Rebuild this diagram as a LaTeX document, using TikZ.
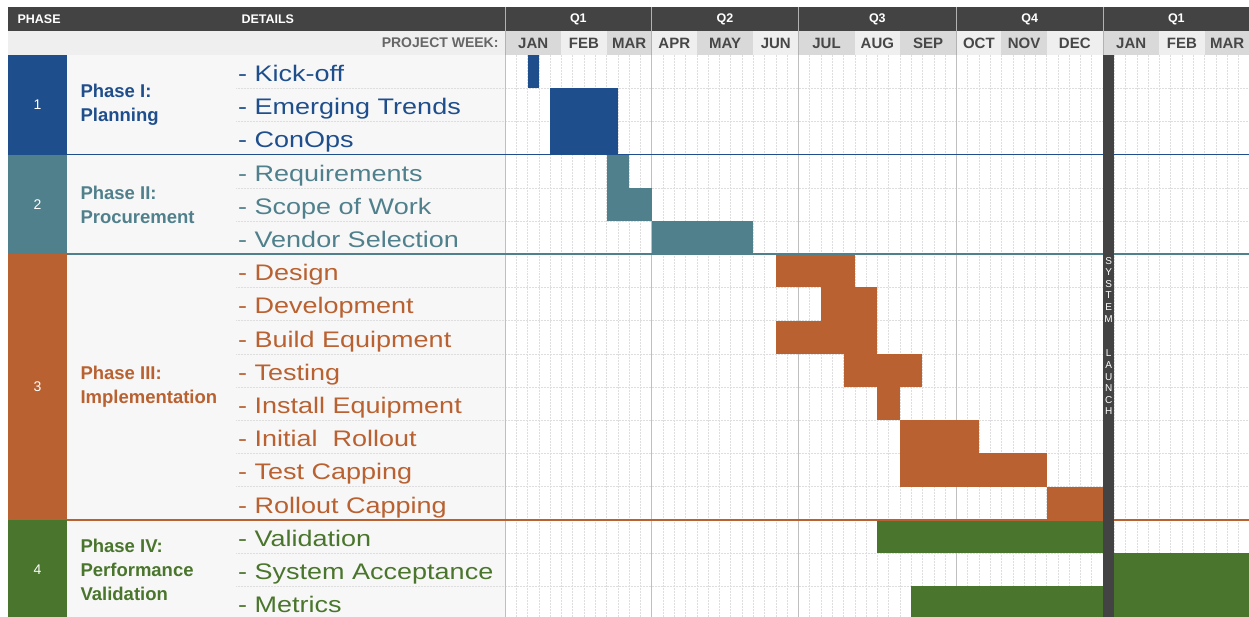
\documentclass[tikz,border=0pt]{standalone}
\usepackage{fontspec}
\setmainfont{Liberation Sans}
\newfontfamily\taskfont[FakeStretch=1.2]{Liberation Sans}

\definecolor{phA}{HTML}{1F4E8C}
\definecolor{phB}{HTML}{50808C}
\definecolor{phC}{HTML}{B96130}
\definecolor{phD}{HTML}{4A752C}
\definecolor{hdark}{HTML}{434343}
\definecolor{mdk}{HTML}{D9D9D9}
\definecolor{mlt}{HTML}{EFEFEF}

% one week column, one task row (in px)
\newcommand\wk{11.283}
\newcommand\rh{33.2}

\begin{document}
\begin{tikzpicture}[x=1pt,y=-1pt,
    hdr/.style={font=\fontsize{12.5}{14}\selectfont\bfseries,text=white},
    mon/.style={font=\fontsize{15}{17}\selectfont\bfseries,text=black!72},
    task/.style={anchor=base west,font=\taskfont\fontsize{22.5}{26}\selectfont},
    phname/.style={anchor=west,align=left,font=\fontsize{18.5}{24}\selectfont\bfseries},
    griddot/.style={black!13,densely dotted,line width=0.5pt},
    qline/.style={black!25,line width=0.8pt}]
    \clip (0,0) rectangle (1249,617);
    \fill[white] (0,0) rectangle (1249,617);
    \fill[black!3] (67,55) rectangle (505,617);

    % week grid
    \foreach \i in {1,...,65}
        \draw[griddot] (505+\i*\wk,55) -- (505+\i*\wk,617);
    \foreach \r in {1,...,16}
        \draw[griddot] (236,55+\r*\rh) -- (1249,55+\r*\rh);
    \foreach \i in {0,13,26,40}
        \draw[qline] (505+\i*\wk,55) -- (505+\i*\wk,617);

    % task bars: row/start week/end week/colour
    \foreach \r/\s/\e/\c in {0/2/3/phA, 1/4/10/phA, 2/4/10/phA,
        3/9/11/phB, 4/9/13/phB, 5/13/22/phB,
        6/24/31/phC, 7/28/33/phC, 8/24/33/phC, 9/30/37/phC, 10/33/35/phC,
        11/35/42/phC, 12/35/48/phC, 13/48/53/phC,
        14/33/53/phD, 15/54/66/phD, 16/36/53/phD, 16/54/66/phD}
    {
        \fill[\c] (505+\s*\wk,55+\r*\rh) rectangle (505+\e*\wk,55+\r*\rh+\rh);
    }

    % phases: number/first row/last row/colour/name
    \foreach \n/\a/\b/\c/\t in {1/0/3/phA/{Phase I:\\Planning},
        2/3/6/phB/{Phase II:\\Procurement},
        3/6/14/phC/{Phase III:\\Implementation},
        4/14/17/phD/{Phase IV:\\Performance\\Validation}}
    {
        \fill[\c] (8,55+\a*\rh) rectangle (67,55+\b*\rh);
        \draw[\c,line width=1.5pt] (67,55+\b*\rh) -- (1249,55+\b*\rh);
        \node[text=white,font=\fontsize{14}{16}\selectfont] (n\n) at (37.5,55+\a*\rh/2+\b*\rh/2) {\n};
        \node[phname,text=\c] (p\n) at (77,55+\a*\rh/2+\b*\rh/2) {\t};
    }

    % task names
    \foreach \r/\t/\c in {0/Kick-off/phA, 1/Emerging Trends/phA, 2/ConOps/phA,
        3/Requirements/phB, 4/Scope of Work/phB, 5/Vendor Selection/phB,
        6/Design/phC, 7/Development/phC, 8/Build Equipment/phC, 9/Testing/phC,
        10/Install Equipment/phC, 11/Initial\ \ Rollout/phC, 12/Test Capping/phC,
        13/Rollout Capping/phC,
        14/Validation/phD, 15/System Acceptance/phD, 16/Metrics/phD}
    {
        \node[task,text=\c,inner sep=0pt] (t\r) at (238,55+\r*\rh+26.5) {- \t};
    }

    % launch marker
    \fill[hdark] (505+53*\wk,55) rectangle (505+54*\wk,617);
    \node[anchor=north,text=white,align=center,inner sep=0pt,
        font=\fontsize{10}{11.6}\selectfont] (launch) at (505+53.5*\wk,257)
        {S\\Y\\S\\T\\E\\M\\[23.2pt]L\\A\\U\\N\\C\\H};

    % header rows
    \fill[hdark] (8,7) rectangle (1249,31);
    \fill[mlt] (8,31) rectangle (505,55);
    \foreach \a/\b/\m/\c in {0/5/JAN/mdk, 5/9/FEB/mlt, 9/13/MAR/mdk,
        13/17/APR/mlt, 17/22/MAY/mdk, 22/26/JUN/mlt,
        26/31/JUL/mdk, 31/35/AUG/mlt, 35/40/SEP/mdk,
        40/44/OCT/mlt, 44/48/NOV/mdk, 48/53/DEC/mlt,
        53/58/JAN/mdk, 58/62/FEB/mlt, 62/66/MAR/mdk}
    {
        \fill[\c] (505+\a*\wk,31) rectangle (505+\b*\wk,55);
        \node[mon] (m\a) at (505+\a*\wk/2+\b*\wk/2,43) {\m};
    }
    \foreach \a/\b/\q in {0/13/Q1, 13/26/Q2, 26/40/Q3, 40/53/Q4, 53/66/Q1}
        \node[hdr] (q\a) at (505+\a*\wk/2+\b*\wk/2,19) {\q};
    \foreach \i in {0,13,26,40,53}
        \draw[black!30,line width=0.8pt] (505+\i*\wk,7) -- (505+\i*\wk,55);
    \node[hdr,anchor=west] (phase) at (14,19) {PHASE};
    \node[hdr,anchor=west] (details) at (238,19) {DETAILS};
    \node[anchor=east,text=black!60,font=\fontsize{14}{16}\selectfont\bfseries]
        (pweek) at (502,43) {PROJECT WEEK:};
\end{tikzpicture}
\end{document}
